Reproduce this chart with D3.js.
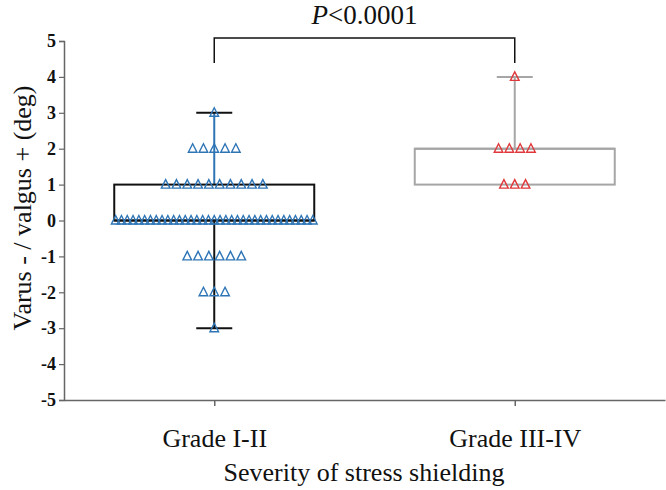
<!DOCTYPE html>
<meta charset="utf-8">
<title>Varus / valgus by stress shielding</title>
<style>
html, body { margin: 0; background: #fff; overflow: hidden; }
text { font-family: "Liberation Serif", "Times New Roman", serif; fill: #111; }
</style>
<svg width="666" height="490"></svg>
<script src="https://d3js.org/d3.v7.min.js"></script>
<script>

// data
var categories = ["Grade I-II", "Grade III-IV"];
// grade I-II, counts per value
var g1Values = [3, 2, 1, 0, -1, -2, -3],
    g1Counts = [1, 5, 10, 35, 6, 3, 1];
// grade III-IV
var g2Values = [4, 2, 1],
    g2Counts = [1, 4, 3];
var yTicks = [-5, -4, -3, -2, -1, 0, 1, 2, 3, 4, 5];
var pText = "<0.0001";

var colors = ["#2e75b6", "#e0373a"],
    boxColors = ["#111", "#a6a6a6"];

var svg = d3.select("svg");

var x = d3.scalePoint().domain(categories).range([64, 665]).padding(0.5);
var y = d3.scaleLinear().domain([-5, 5]).range([400, 41]);

// build groups
var groups = [
  {name: categories[0], vals: g1Values, counts: g1Counts},
  {name: categories[1], vals: g2Values, counts: g2Counts}
];
groups.forEach(function(g) {
  var all = [];
  g.vals.forEach(function(v, i) { for (var k = 0; k < g.counts[i]; k++) all.push(v); });
  all.sort(d3.ascending);
  g.q1 = d3.quantile(all, 0.25);
  g.med = d3.quantile(all, 0.5);
  g.q3 = d3.quantile(all, 0.75);
  g.min = d3.min(all);
  g.max = d3.max(all);
});

// axes
var yAxis = svg.append("g")
    .attr("transform", "translate(64,0)")
    .call(d3.axisLeft(y).tickValues(yTicks).tickSize(5).tickPadding(3)
      .tickFormat(function(d) { return String(d); }));
yAxis.select(".domain").attr("stroke", "#666").attr("stroke-width", 1.5);
yAxis.selectAll(".tick line").attr("stroke", "#666").attr("stroke-width", 1.2);
yAxis.selectAll(".tick text").attr("fill", "#111")
    .style("font-size", "18px").style("font-weight", "bold");

var xAxis = svg.append("g")
    .attr("transform", "translate(0,400)")
    .call(d3.axisBottom(x).tickSize(6).tickPadding(23).tickSizeOuter(0));
xAxis.select(".domain").attr("stroke", "#666").attr("stroke-width", 1.5);
xAxis.selectAll(".tick line").attr("stroke", "#666").attr("stroke-width", 1.5);
xAxis.selectAll(".tick text").attr("fill", "#111").style("font-size", "26px");

// titles
svg.append("text")
    .attr("transform", "translate(22,208) rotate(-90)")
    .attr("text-anchor", "middle")
    .attr("dy", "0.35em")
    .style("font-size", "26px")
    .text("Varus - / valgus + (deg)");

svg.append("text")
    .attr("x", 364)
    .attr("y", 481)
    .attr("text-anchor", "middle")
    .style("font-size", "26px")
    .text("Severity of stress shielding");

var boxW = 200, capW = 36;

groups.forEach(function(g, gi) {
  var cx = x(g.name), col = boxColors[gi];
  var layer = svg.append("g");

  // whiskers
  if (g.max > g.q3) {
    layer.append("line").attr("x1", cx).attr("x2", cx).attr("y1", y(g.max)).attr("y2", y(g.q3))
      .attr("stroke", gi === 0 ? colors[0] : col).attr("stroke-width", 2);
    layer.append("line").attr("x1", cx - capW / 2).attr("x2", cx + capW / 2).attr("y1", y(g.max)).attr("y2", y(g.max))
      .attr("stroke", col).attr("stroke-width", 2);
  }
  if (g.min < g.q1) {
    layer.append("line").attr("x1", cx).attr("x2", cx).attr("y1", y(g.q1)).attr("y2", y(g.min))
      .attr("stroke", col).attr("stroke-width", 2);
    layer.append("line").attr("x1", cx - capW / 2).attr("x2", cx + capW / 2).attr("y1", y(g.min)).attr("y2", y(g.min))
      .attr("stroke", col).attr("stroke-width", 2);
  }
  // box
  layer.append("rect")
    .attr("x", cx - boxW / 2).attr("y", y(g.q3))
    .attr("width", boxW).attr("height", y(g.q1) - y(g.q3))
    .attr("fill", "none").attr("stroke", col).attr("stroke-width", 2);
  layer.append("line").attr("x1", cx - boxW / 2).attr("x2", cx + boxW / 2).attr("y1", y(g.med)).attr("y2", y(g.med))
    .attr("stroke", col).attr("stroke-width", 2);

  // points: spread symmetrically per value row
  var pts = [];
  g.vals.forEach(function(v, i) {
    var n = g.counts[i], step = n > 20 ? 5.8 : 10.8;
    for (var k = 0; k < n; k++) pts.push({v: v, dx: (k - (n - 1) / 2) * step});
  });
  layer.selectAll("path.pt").data(pts).enter().append("path")
    .attr("class", "pt")
    .attr("transform", function(d) { return "translate(" + (cx + d.dx) + "," + y(d.v) + ")"; })
    .attr("d", "M0,-5L4.3,3.5L-4.3,3.5Z")
    .attr("fill", "none")
    .attr("stroke", colors[gi])
    .attr("stroke-width", 1.4);
});

// significance bracket
var bx1 = x(categories[0]), bx2 = x(categories[1]);
svg.append("path")
    .attr("d", "M" + bx1 + ",63V38H" + bx2 + "V63")
    .attr("fill", "none").attr("stroke", "#111").attr("stroke-width", 1.5);
var pt = svg.append("text")
    .attr("x", (bx1 + bx2) / 2).attr("y", 24)
    .attr("text-anchor", "middle")
    .style("font-size", "27px");
pt.append("tspan").style("font-style", "italic").text("P");
pt.append("tspan").text(pText);

</script>
